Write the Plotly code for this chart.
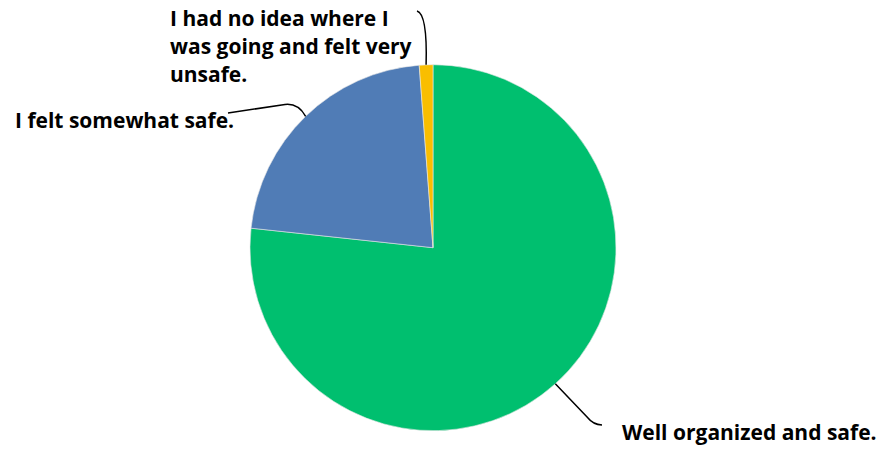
import math
import plotly.graph_objects as go

# ---- data ----
categories = ["Well organized and safe.", "I felt somewhat safe.",
              "I had no idea where I was going and felt very unsafe."]
values = [76.7, 22.1, 1.2]
colors = ["#00BF6F", "#507CB6", "#F9BE00"]
label_lines = [["Well organized and safe."], ["I felt somewhat safe."],
               ["I had no idea where I", "was going and felt very", "unsafe."]]

W, H = 886, 450
CX, CY, R = 433, 247.7, 183

def px(x):
    return x / W

def py(y):
    return 1 - y / H

fig = go.Figure(go.Pie(
    labels=categories, values=values, sort=False, direction="clockwise",
    rotation=0, marker=dict(colors=colors, line=dict(color="#e8e8e8", width=0.6)),
    textinfo="none", hoverinfo="label+percent", showlegend=False,
    domain=dict(x=[px(CX - R), px(CX + R)], y=[py(CY + R), py(CY - R)]),
))

# rim points at slice mid-angles (clockwise from 12 o'clock)
total = sum(values)
acc = 0
mids = []
for v in values:
    mids.append((acc + v / 2) / total * 360)
    acc += v
rim = [(CX + R * math.sin(math.radians(a)), CY - R * math.cos(math.radians(a))) for a in mids]

def P(x, y):
    return f"{px(x):.5f},{py(y):.5f}"

g, b, yel = rim
paths = [
    f"M {P(*g)} L {P(588, 418)} Q {P(593, 424.5)} {P(602, 425)}",
    f"M {P(*b)} Q {P(298, 103)} {P(285, 104.5)} L {P(228, 113)}",
    f"M {P(*yel)} Q {P(427.5, 14)} {P(417, 11)}",
]
shapes = [dict(type="path", path=p, xref="paper", yref="paper",
               line=dict(color="#000000", width=1.5)) for p in paths]

FONT = dict(family="Open Sans", size=21, color="#000000")
annos = []
positions = [(620, [432]), (13, [120]), (168, [18, 46, 74])]
for lines, (x0, ys) in zip(label_lines, positions):
    for t, yy in zip(lines, ys):
        annos.append(dict(text=f"<b>{t}</b>", x=px(x0), y=py(yy), xref="paper", yref="paper",
                          xanchor="left", yanchor="middle", showarrow=False, font=FONT))

fig.update_layout(width=W, height=H, margin=dict(l=0, r=0, t=0, b=0),
                  paper_bgcolor="white", plot_bgcolor="white",
                  shapes=shapes, annotations=annos)
fig.write_html("out.html", config={"displayModeBar": False},
               post_script="document.body.style.margin='0';document.body.style.overflow='hidden';")
